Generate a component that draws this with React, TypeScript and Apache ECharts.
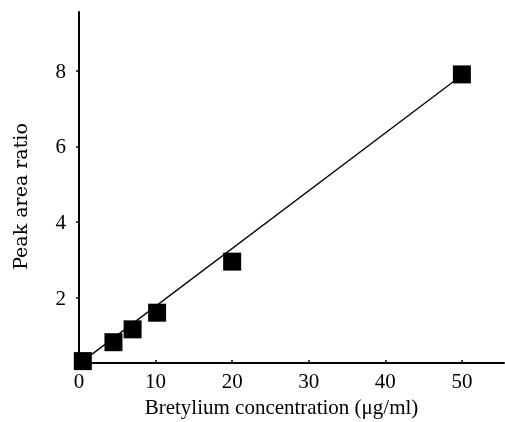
import React, { useEffect, useRef } from "react";
import * as echarts from "echarts";

const concentrations = [0.5, 4.5, 7, 10.2, 20, 50];
const peakRatios = [0.32, 0.82, 1.16, 1.6, 2.95, 7.9];
const fitX = [0.5, 50];
const fitY = [0.32, 7.88];
const xTicks = [0, 10, 20, 30, 40, 50];
const yTicks = [2, 4, 6, 8];

const FONT = "Liberation Serif";

export default function App() {
  const ref = useRef<HTMLDivElement>(null);
  useEffect(() => {
    const chart = echarts.init(ref.current!, null, { renderer: "svg" });
    chart.setOption({
      animation: false,
      grid: { left: 79, right: 1, top: 12, bottom: 55, containLabel: false },
      xAxis: {
        type: "value",
        min: 0,
        max: 55.5,
        name: "Bretylium concentration (\u03bcg/ml)",
        nameLocation: "middle",
        nameGap: 33,
        nameTextStyle: { fontFamily: FONT, fontSize: 21, color: "#000", padding: [0, 20, 0, 0] },
        axisLine: { lineStyle: { color: "#000", width: 2 } },
        axisTick: { show: true, inside: true, length: 3, customValues: xTicks, lineStyle: { color: "#000", width: 1.5 } },
        axisLabel: { customValues: xTicks, fontFamily: FONT, fontSize: 21, color: "#000", margin: 7 },
        splitLine: { show: false },
      },
      yAxis: {
        type: "value",
        min: 0.27,
        max: 9.55,
        name: "Peak area ratio",
        nameLocation: "middle",
        nameGap: 50,
        nameRotate: 90,
        nameTextStyle: { fontFamily: "DejaVu Serif", fontSize: 19, color: "#000", padding: [0, 18, 0, 0] },
        axisLine: { show: true, lineStyle: { color: "#000", width: 2 } },
        axisTick: { show: true, length: 3, customValues: yTicks, lineStyle: { color: "#000", width: 1.5 } },
        axisLabel: { customValues: yTicks, fontFamily: FONT, fontSize: 21, color: "#000", margin: 13 },
        splitLine: { show: false },
      },
      series: [
        {
          type: "line",
          data: fitX.map((x, i) => [x, fitY[i]]),
          symbol: "none",
          lineStyle: { color: "#000", width: 1.3 },
          z: 2,
        },
        {
          type: "scatter",
          data: concentrations.map((x, i) => [x, peakRatios[i]]),
          symbol: "rect",
          symbolSize: 18,
          itemStyle: { color: "#000", opacity: 1 },
          z: 3,
        },
      ],
    });
    return () => chart.dispose();
  }, []);
  return <div ref={ref} style={{ position: "fixed", left: 0, top: 0, width: 505, height: 422 }} />;
}
